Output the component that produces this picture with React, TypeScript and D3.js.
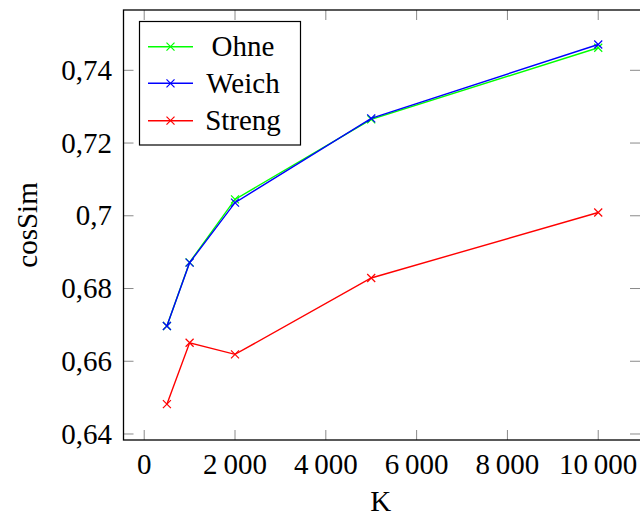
import React from 'react';
import * as d3 from 'd3';

// K values (x) and cosSim per variant
const kValues = [500, 1000, 2000, 5000, 10000];
const ohne = [0.6697, 0.6872, 0.7045, 0.7265, 0.7462];
const weich = [0.6697, 0.6871, 0.7036, 0.7268, 0.7471];
const streng = [0.6482, 0.6651, 0.6619, 0.6829, 0.7009];

const seriesNames = ['Ohne', 'Weich', 'Streng'];
const seriesColors = ['#00ff00', '#0000ff', '#ff0000'];

const xTicks = [0, 2000, 4000, 6000, 8000, 10000];
const yTicks = [0.64, 0.66, 0.68, 0.7, 0.72, 0.74];

const FONT = 'Liberation Serif';

const width = 640, height = 517;
const left = 123.5, right = 640, top = 10, bottom = 440;
const tickLen = 10;

const locale = d3.formatLocale({
  decimal: ',',
  thousands: '\u2009',
  grouping: [3],
  currency: ['', ''],
});
const fmtX = locale.format(',');
const fmtY = locale.format('.2~f');

const x = d3.scaleLinear().domain([-456, 10920]).range([left, right]);
const y = d3.scaleLinear().domain([0.63835, 0.75658]).range([bottom, top]);

const line = d3.line<number>()
  .x((d, i) => x(kValues[i]))
  .y(d => y(d));

function Cross({ cx, cy, color }: { cx: number; cy: number; color: string }) {
  const s = 4;
  return (
    <path
      d={`M${cx - s},${cy - s}L${cx + s},${cy + s}M${cx - s},${cy + s}L${cx + s},${cy - s}`}
      stroke={color}
      strokeWidth={1.2}
      fill="none"
    />
  );
}

export default function App() {
  const allSeries = [ohne, weich, streng];
  const rowY = [46.7, 83.3, 120.7];

  return (
    <svg width={width} height={height} style={{ position: 'absolute', left: 0, top: 0, background: '#fff' }}>
      {/* ticks, inside on all four sides */}
      <g stroke="#8a8a8a" strokeWidth={1}>
        {xTicks.map(t => (
          <g key={'xt' + t}>
            <line x1={x(t)} x2={x(t)} y1={bottom} y2={bottom - tickLen} />
            <line x1={x(t)} x2={x(t)} y1={top} y2={top + tickLen} />
          </g>
        ))}
        {yTicks.map(t => (
          <g key={'yt' + t}>
            <line x1={left} x2={left + tickLen} y1={y(t)} y2={y(t)} />
            <line x1={right} x2={right - tickLen} y1={y(t)} y2={y(t)} />
          </g>
        ))}
      </g>

      {/* tick labels */}
      {xTicks.map(t => (
        <text key={'xl' + t} x={x(t)} y={474} textAnchor="middle" fontFamily={FONT} fontSize={29}>
          {fmtX(t)}
        </text>
      ))}
      {yTicks.map(t => (
        <text key={'yl' + t} x={112} y={y(t)} dy="0.33em" textAnchor="end" fontFamily={FONT} fontSize={29}>
          {fmtY(t)}
        </text>
      ))}

      {/* axis labels */}
      <text x={(left + right) / 2 - 1} y={511} textAnchor="middle" fontFamily={FONT} fontSize={29}>K</text>
      <text transform={`translate(37, ${(top + bottom) / 2}) rotate(-90)`} textAnchor="middle" fontFamily={FONT} fontSize={29}>
        cosSim
      </text>

      {/* series */}
      {allSeries.map((vals, si) => (
        <g key={'s' + si}>
          <path d={line(vals) || ''} fill="none" stroke={seriesColors[si]} strokeWidth={1.4} />
          {vals.map((v, i) => (
            <Cross key={i} cx={x(kValues[i])} cy={y(v)} color={seriesColors[si]} />
          ))}
        </g>
      ))}

      {/* frame */}
      <rect x={left} y={top} width={right - left + 2} height={bottom - top} fill="none" stroke="#000" strokeWidth={1.3} />

      {/* legend */}
      <g>
        <rect x={139.5} y={21.5} width={161} height={123.5} fill="#fff" stroke="#000" strokeWidth={1.2} />
        {seriesNames.map((name, i) => (
          <g key={name}>
            <line x1={148} x2={193} y1={rowY[i]} y2={rowY[i]} stroke={seriesColors[i]} strokeWidth={1.4} />
            <Cross cx={170.5} cy={rowY[i]} color={seriesColors[i]} />
            <text x={243} y={rowY[i]} dy="0.33em" textAnchor="middle" fontFamily={FONT} fontSize={29}>
              {name}
            </text>
          </g>
        ))}
      </g>
    </svg>
  );
}
